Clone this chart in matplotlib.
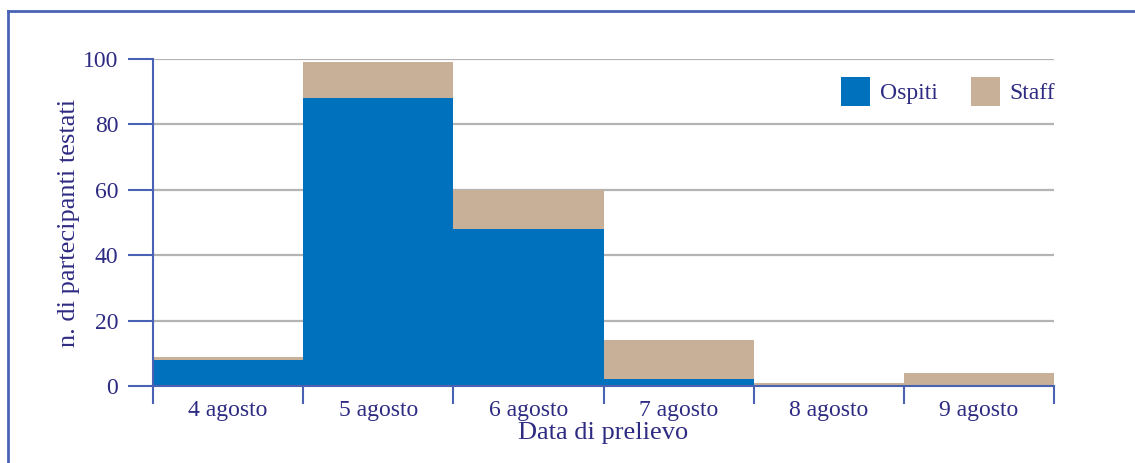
import matplotlib
matplotlib.use("Agg")
import matplotlib.pyplot as plt
from matplotlib.lines import Line2D
from matplotlib.patches import Patch
import numpy as np

# data
dates = ["4 agosto", "5 agosto", "6 agosto", "7 agosto", "8 agosto", "9 agosto"]
ospiti = [8, 88, 48, 2, 0, 0]
staff = [1, 11, 12, 12, 1, 4]

BLUE = "#0071bc"
TAN = "#c7b097"
TEXT = "#2e2b82"
AXIS = "#4a62b4"
GRID = "#b4b4b4"

plt.rcParams['font.family'] = ['Liberation Serif', 'DejaVu Serif']

fig = plt.figure(figsize=(11.35, 4.63), dpi=100)
ax = fig.add_axes([153/1135, 77/463, (1054-153)/1135, (386-59)/463])

x = np.arange(len(dates))
ax.bar(x, ospiti, width=1.0, align='edge', color=BLUE, linewidth=0, zorder=2)
ax.bar(x, staff, width=1.0, align='edge', bottom=ospiti, color=TAN, linewidth=0, zorder=2)

ax.set_xlim(0, len(dates))
ax.set_ylim(0, 100)
ax.set_yticks([0, 20, 40, 60, 80, 100])
ax.yaxis.grid(True, color=GRID, linewidth=1.6, zorder=0)
ax.set_axisbelow(True)

# ticks at bar edges, labels centred
ax.set_xticks(np.arange(len(dates) + 1))
ax.set_xticklabels([])
ax.set_xticks(x + 0.5, minor=True)
ax.set_xticklabels(dates, minor=True)
ax.tick_params(axis='x', which='major', direction='out', length=13, width=1.5, color=AXIS)
ax.tick_params(axis='x', which='minor', length=0, pad=10, labelsize=17, labelcolor=TEXT)
ax.tick_params(axis='y', direction='out', length=18, width=1.5, color=AXIS,
               pad=7, labelsize=17, labelcolor=TEXT)

for s in ["top", "right"]:
    ax.spines[s].set_visible(False)
for s in ["left", "bottom"]:
    ax.spines[s].set_color(AXIS)
    ax.spines[s].set_linewidth(1.5)

ax.set_xlabel("Data di prelievo", fontsize=19, color=TEXT, labelpad=1)
ax.set_ylabel("n. di partecipanti testati", fontsize=19, color=TEXT, labelpad=2)

handles = [Patch(facecolor=BLUE, edgecolor='none'), Patch(facecolor=TAN, edgecolor='none')]
ax.legend(handles, ["Ospiti", "Staff"], ncol=2, frameon=False, fontsize=17,
          labelcolor=TEXT, loc='upper right', bbox_to_anchor=(1.025, 1.01),
          handlelength=1.25, handleheight=1.5, handletextpad=0.4, columnspacing=1.4)

# blue frame on top and left of the figure
fig.add_artist(Line2D([8/1135, 8/1135], [0, 1 - 11/463], transform=fig.transFigure,
                      color=AXIS, linewidth=2))
fig.add_artist(Line2D([8/1135, 1], [1 - 11/463, 1 - 11/463], transform=fig.transFigure,
                      color=AXIS, linewidth=2))

fig.savefig("out.png", dpi=100)
